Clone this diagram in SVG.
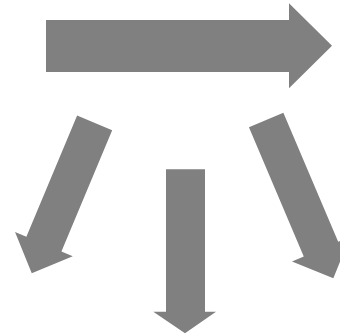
<svg xmlns="http://www.w3.org/2000/svg" width="340" height="336" viewBox="0 0 340 336">
  <style>
    .arrow { fill: #808080; stroke: none; }
  </style>
  <rect width="340" height="336" fill="#ffffff"/>
  <g id="arrow-top">
    <polygon class="arrow" points="46,20 289,20 289,3.3 332,45.7 289,88.3 289,72 46,72"/>
  </g>
  <g id="arrow-left" transform="translate(94.65,122.85) rotate(22.7)">
    <polygon class="arrow" points="-19,0 19,0 19,131.5 31.3,131.5 0,163 -31.3,131.5 -19,131.5"/>
  </g>
  <g id="arrow-middle">
    <polygon class="arrow" points="166,169.3 205,169.3 205,311.7 216,311.7 185,333.3 153.3,311.7 166,311.7"/>
  </g>
  <g id="arrow-right" transform="translate(266.15,120) rotate(-23)">
    <polygon class="arrow" points="-18.7,0 18.7,0 18.7,140.3 31.5,140.3 0,172 -31.5,140.3 -18.7,140.3"/>
  </g>
</svg>
